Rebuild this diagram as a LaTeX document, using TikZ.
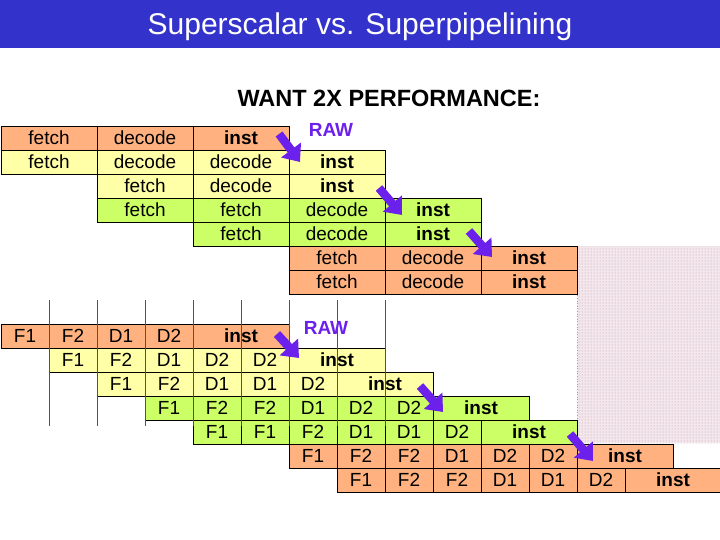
\documentclass[tikz,border=0pt]{standalone}
\usepackage{fontspec}
\setmainfont{Liberation Sans}
\usetikzlibrary{arrows.meta,patterns}
\definecolor{csal}{RGB}{255,178,128}
\definecolor{cyel}{RGB}{255,255,168}
\definecolor{cgrn}{RGB}{204,255,102}
\definecolor{ttlblue}{RGB}{51,51,204}
\definecolor{rawcol}{RGB}{108,32,235}
\definecolor{clkred}{RGB}{205,30,30}
\definecolor{dotcol}{RGB}{200,140,165}
\definecolor{dotbg}{RGB}{242,232,236}
\begin{document}
\begin{tikzpicture}[x=1pt,y=-1pt,
  cell/.style={draw=black,line width=0.8pt,rectangle,inner sep=0pt,minimum height=24pt,
    text height=13.7pt,text depth=0pt,font=\fontsize{19}{19}\selectfont},
  wa/.style={minimum width=96pt},
  wb/.style={minimum width=48pt},
  cs/.style={fill=csal},
  cy/.style={fill=cyel},
  cg/.style={fill=cgrn},
  ib/.style={font=\fontsize{19}{19}\selectfont\bfseries},
  rawlbl/.style={text=rawcol,font=\fontsize{19}{19}\selectfont\bfseries,inner sep=0pt},
  rawarr/.style={draw=rawcol,line width=8.5pt,-{Triangle[length=15pt,width=24pt]}},
  clk/.style={draw=clkred,line width=1pt}]
\useasboundingbox (0,0) rectangle (720,540);
% title
\fill[ttlblue] (0,0) rectangle (720,48);
\node[anchor=base,text=white,font=\fontsize{30}{30}\selectfont,inner sep=0pt] (title) at (360,35) {Superscalar vs. Superpipelining};
\node[anchor=base,font=\fontsize{23.5}{23.5}\selectfont\bfseries,inner sep=0pt] (want) at (389,107) {WANT 2X PERFORMANCE:};
% dotted region
\fill[dotbg] (577,246) rectangle (720,443);
\path[pattern=dots,pattern color=dotcol] (577,246) rectangle (720,443);
\draw[dotcol,dotted,line width=0.6pt] (577,246) -- (577,443);
% top table
\node[cell,wa,cs] (t00) at (49,138) {fetch};
\node[cell,wa,cs] (t01) at (145,138) {decode};
\node[cell,wa,cs,ib] (t02) at (241,138) {inst};
\node[cell,wa,cy] (t10) at (49,162) {fetch};
\node[cell,wa,cy] (t11) at (145,162) {decode};
\node[cell,wa,cy] (t12) at (241,162) {decode};
\node[cell,wa,cy,ib] (t13) at (337,162) {inst};
\node[cell,wa,cy] (t21) at (145,186) {fetch};
\node[cell,wa,cy] (t22) at (241,186) {decode};
\node[cell,wa,cy,ib] (t23) at (337,186) {inst};
\node[cell,wa,cg] (t31) at (145,210) {fetch};
\node[cell,wa,cg] (t32) at (241,210) {fetch};
\node[cell,wa,cg] (t33) at (337,210) {decode};
\node[cell,wa,cg,ib] (t34) at (433,210) {inst};
\node[cell,wa,cg] (t42) at (241,234) {fetch};
\node[cell,wa,cg] (t43) at (337,234) {decode};
\node[cell,wa,cg,ib] (t44) at (433,234) {inst};
\node[cell,wa,cs] (t53) at (337,258) {fetch};
\node[cell,wa,cs] (t54) at (433,258) {decode};
\node[cell,wa,cs,ib] (t55) at (529,258) {inst};
\node[cell,wa,cs] (t63) at (337,282) {fetch};
\node[cell,wa,cs] (t64) at (433,282) {decode};
\node[cell,wa,cs,ib] (t65) at (529,282) {inst};
\node[rawlbl] (rawtop) at (331,130) {RAW};
% bottom table
\node[cell,wb,cs] (b00) at (25,336) {F1};
\node[cell,wb,cs] (b01) at (73,336) {F2};
\node[cell,wb,cs] (b02) at (121,336) {D1};
\node[cell,wb,cs] (b03) at (169,336) {D2};
\node[cell,wa,cs,ib] (b04) at (241,336) {inst};
\node[cell,wb,cy] (b11) at (73,360) {F1};
\node[cell,wb,cy] (b12) at (121,360) {F2};
\node[cell,wb,cy] (b13) at (169,360) {D1};
\node[cell,wb,cy] (b14) at (217,360) {D2};
\node[cell,wb,cy] (b15) at (265,360) {D2};
\node[cell,wa,cy,ib] (b16) at (337,360) {inst};
\node[cell,wb,cy] (b22) at (121,384) {F1};
\node[cell,wb,cy] (b23) at (169,384) {F2};
\node[cell,wb,cy] (b24) at (217,384) {D1};
\node[cell,wb,cy] (b25) at (265,384) {D1};
\node[cell,wb,cy] (b26) at (313,384) {D2};
\node[cell,wa,cy,ib] (b27) at (385,384) {inst};
\node[cell,wb,cg] (b33) at (169,408) {F1};
\node[cell,wb,cg] (b34) at (217,408) {F2};
\node[cell,wb,cg] (b35) at (265,408) {F2};
\node[cell,wb,cg] (b36) at (313,408) {D1};
\node[cell,wb,cg] (b37) at (361,408) {D2};
\node[cell,wb,cg] (b38) at (409,408) {D2};
\node[cell,wa,cg,ib] (b39) at (481,408) {inst};
\node[cell,wb,cg] (b44) at (217,432) {F1};
\node[cell,wb,cg] (b45) at (265,432) {F1};
\node[cell,wb,cg] (b46) at (313,432) {F2};
\node[cell,wb,cg] (b47) at (361,432) {D1};
\node[cell,wb,cg] (b48) at (409,432) {D1};
\node[cell,wb,cg] (b49) at (457,432) {D2};
\node[cell,wa,cg,ib] (b410) at (529,432) {inst};
\node[cell,wb,cs] (b56) at (313,456) {F1};
\node[cell,wb,cs] (b57) at (361,456) {F2};
\node[cell,wb,cs] (b58) at (409,456) {F2};
\node[cell,wb,cs] (b59) at (457,456) {D1};
\node[cell,wb,cs] (b510) at (505,456) {D2};
\node[cell,wb,cs] (b511) at (553,456) {D2};
\node[cell,wa,cs,ib] (b512) at (625,456) {inst};
\node[cell,wb,cs] (b67) at (361,480) {F1};
\node[cell,wb,cs] (b68) at (409,480) {F2};
\node[cell,wb,cs] (b69) at (457,480) {F2};
\node[cell,wb,cs] (b610) at (505,480) {D1};
\node[cell,wb,cs] (b611) at (553,480) {D1};
\node[cell,wb,cs] (b612) at (601,480) {D2};
\node[cell,wa,cs,ib] (b613) at (673,480) {inst};
\node[rawlbl] (rawbot) at (326,328) {RAW};
% clock lines
\foreach \xx in {49,97,145,193,241,289,337,385}
  \draw[clk] (\xx,300) -- (\xx,426);
% arrows
\coordinate (a1s) at (279,134); \coordinate (a1e) at (300,162);
\coordinate (a2s) at (379,188); \coordinate (a2e) at (402,215);
\coordinate (a3s) at (469,231); \coordinate (a3e) at (492,257);
\coordinate (a4s) at (277,334); \coordinate (a4e) at (299,358);
\coordinate (a5s) at (420,386); \coordinate (a5e) at (443,412);
\coordinate (a6s) at (570,434); \coordinate (a6e) at (593,461);
\foreach \i in {1,...,6} \draw[rawarr] (a\i s) -- (a\i e);
\end{tikzpicture}
\end{document}
